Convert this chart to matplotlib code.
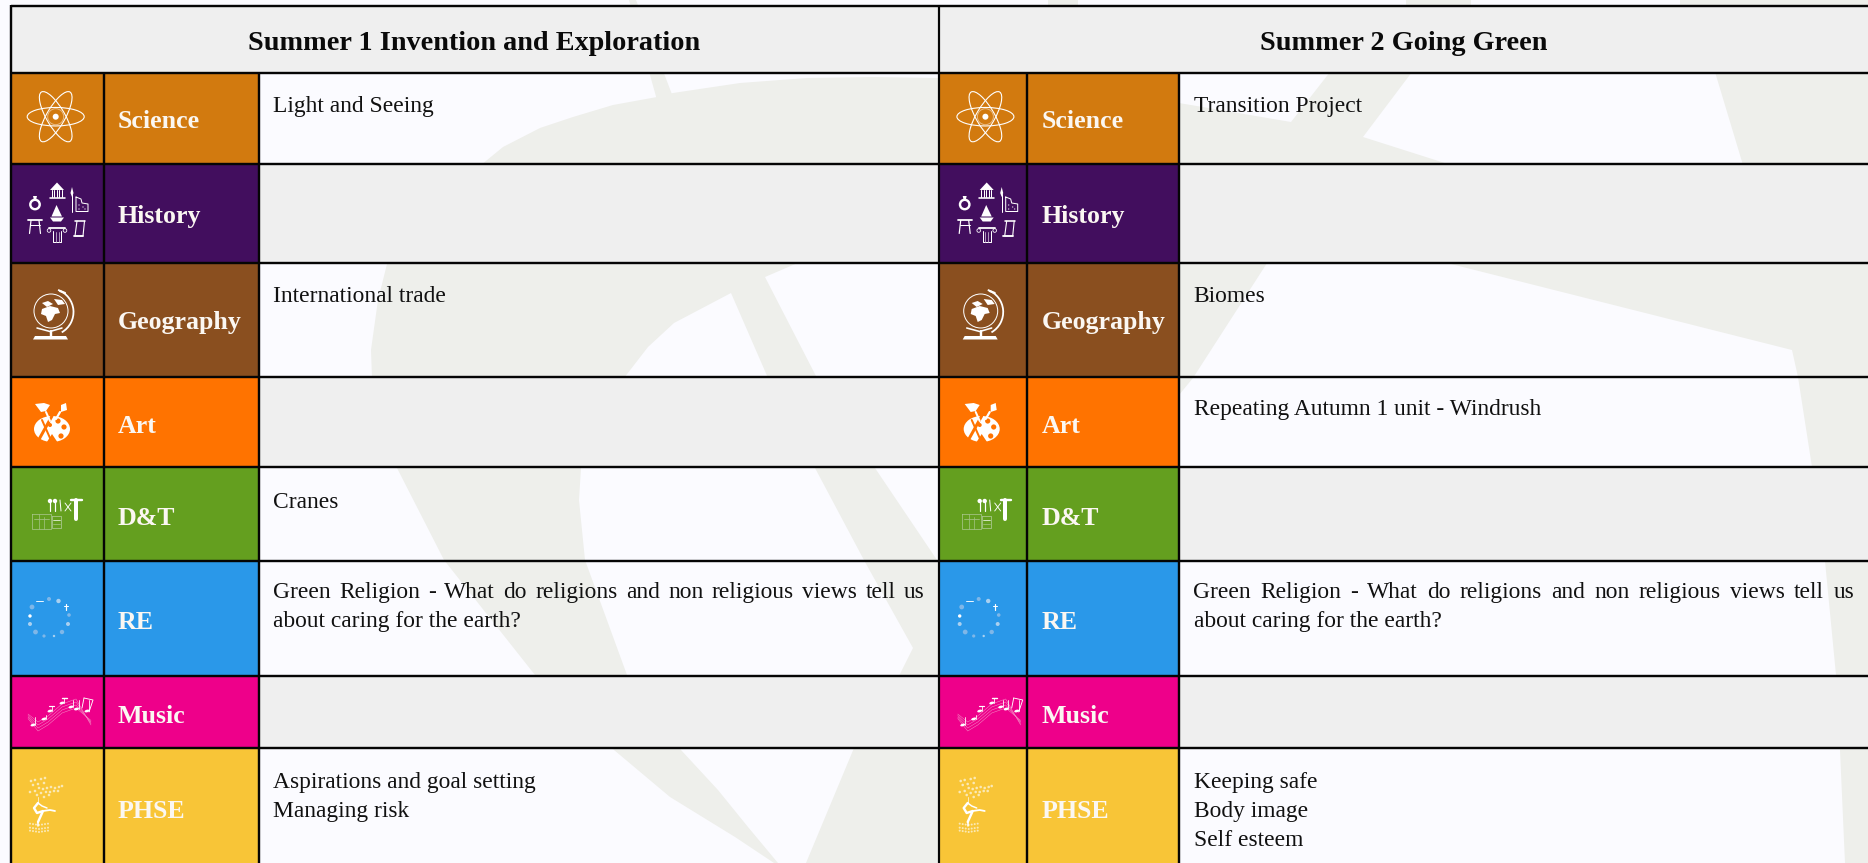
import matplotlib
matplotlib.use("Agg")
import matplotlib.pyplot as plt
from matplotlib.patches import Polygon, Rectangle, Ellipse, Circle, Arc
from matplotlib.textpath import TextPath
from matplotlib.font_manager import FontProperties

# ---------- table content ----------
subjects = ["Science", "History", "Geography", "Art", "D&T", "RE", "Music", "PHSE"]
subject_colors = ["#D27A0F", "#420E5E", "#8A4F1F", "#FF7300", "#649F1F", "#2A98E9", "#EE008A", "#F8C537"]
terms = ["Summer 1 Invention and Exploration", "Summer 2 Going Green"]
green_religion = ["Green Religion - What do religions and non religious views tell us",
                  "about caring for the earth?"]
summer1 = [["Light and Seeing"], [], ["International trade"], [], ["Cranes"],
           green_religion, [], ["Aspirations and goal setting", "Managing risk"]]
summer2 = [["Transition Project"], [], ["Biomes"], ["Repeating Autumn 1 unit - Windrush"], [],
           green_religion, [], ["Keeping safe", "Body image", "Self esteem"]]
term_contents = [summer1, summer2]

# ---------- layout (pixels) ----------
W, H = 1868, 863
row_y = [72.7, 163.8, 262.7, 376.7, 467.3, 560.7, 675.7, 748.0, 863.0]
top_y = 6.5
col_x = [(10.5, 104.0, 258.7, 939.0), (939.0, 1027.0, 1179.0, 1868.0)]
label_base = [128, 223, 329, 433, 525, 629, 723, 818]
text_base = [112, 0, 302, 415, 508, 598, 0, 788]
line_gap = 29
text_x = [273, 1193.5]
label_x = [118, 1042]
term_center = [474.5, 1403.5]
term_base = 50
justify_right = [924.5, 1854]
icon_dx = [0, 929.7]

BG = "#FBFBFF"
CELL = "#EFEFEF"
MARK = "#EEEFEB"
INK = "#111111"
FONT = "Liberation Serif"

# ---------- faint background logo ----------
logo_shapes = [
    [(629, 0), (636, 0), (673, 97), (657, 100)],
    [(1048, 0), (1078, 0), (1078, 8), (1048, 8)],
    [(1406, 0), (1471, 0), (1471, 8), (1406, 8)],
    [(1680, 0), (1868, 0), (1868, 8), (1680, 8)],
    [(481, 165), (503, 147), (540, 128), (573, 117), (613, 105), (657, 97), (673, 93), (740, 83),
     (807, 78), (873, 77), (938, 78), (1180, 78), (1180, 165)],
    [(1179, 103), (1291, 122), (1330, 72), (1412, 72), (1363, 137), (1451, 165), (1179, 165)],
    [(1715, 72), (1743, 165), (1440, 165), (1447, 263), (1792, 350), (1798, 377), (1812, 467),
     (1825, 561), (1836, 675), (1840, 750), (1845, 863), (1868, 863), (1868, 72)],
    [(1179, 260), (1269, 260), (1193, 378), (1179, 395)],
    [(388, 260), (378, 300), (371, 350), (372, 378), (624, 378), (648, 347), (674, 323), (731, 293),
     (768, 378), (817, 378), (765, 277), (800, 262)],
    [(397, 468), (444, 560), (535, 675), (614, 750), (670, 797), (735, 837), (774, 863),
     (778, 863), (748, 827), (718, 790), (681, 750), (627, 675), (585, 560), (579, 500), (581, 468)],
    [(815, 468), (865, 562), (913, 648), (898, 678), (940, 678), (940, 560), (937, 560), (875, 468)],
    [(854, 748), (806, 863), (940, 863), (940, 748)],
]

fig = plt.figure(figsize=(W / 100, H / 100), dpi=100, facecolor=BG)
ax = fig.add_axes([0, 0, 1, 1])
ax.set_xlim(0, W)
ax.set_ylim(H, 0)
ax.axis("off")
PX = 0.72


def fit_size(sample, target_px, weight):
    fp = FontProperties(family=FONT, weight=weight)
    bb = TextPath((0, 0), sample, size=100, prop=fp).get_extents()
    return 100 * target_px / bb.width * PX


body_size = fit_size("Aspirations and goal setting", 262, "normal")
label_size = fit_size("Geography", 122, "bold")
head_size = fit_size(terms[0], 450, "bold")

for shape in logo_shapes:
    ax.add_patch(Polygon(shape, closed=True, fc=MARK, ec="none", zorder=1))


def rect(x0, y0, x1, y1, color, z=2):
    ax.add_patch(Rectangle((x0, y0), x1 - x0, y1 - y0, fc=color, ec="none", zorder=z))


# ---------- cells ----------
for c, (x0, x1, x2, x3) in enumerate(col_x):
    rect(x0, top_y, x3, row_y[0], CELL)
    ax.text(term_center[c], term_base, terms[c], family=FONT, weight="bold", size=head_size,
            color="#0A0A0A", ha="center", va="baseline", zorder=6)
    for r, subject in enumerate(subjects):
        y0, y1 = row_y[r], row_y[r + 1]
        rect(x0, y0, x2, y1, subject_colors[r], 3)
        if not term_contents[c][r]:
            rect(x2, y0, x3, y1, CELL)
        ax.text(label_x[c], label_base[r], subject, family=FONT, weight="bold", size=label_size,
                color="#FBF7F2", ha="left", va="baseline", zorder=6)

# ---------- body text ----------
renderer = fig.canvas.get_renderer()


def text_width(s):
    t = ax.text(0, 0, s, family=FONT, size=body_size)
    w = t.get_window_extent(renderer).width
    t.remove()
    return w


def draw_justified(line, x_left, x_right, y):
    words = line.split(" ")
    widths = [text_width(w) for w in words]
    gap = (x_right - x_left - sum(widths)) / (len(words) - 1)
    x = x_left
    for w, wd in zip(words, widths):
        ax.text(x, y, w, family=FONT, size=body_size, color=INK, ha="left", va="baseline", zorder=6)
        x += wd + gap


for c in range(2):
    for r, lines in enumerate(term_contents[c]):
        for i, line in enumerate(lines):
            y = text_base[r] + i * line_gap
            if line == green_religion[0]:
                draw_justified(line, text_x[c], justify_right[c], y)
            else:
                ax.text(text_x[c], y, line, family=FONT, size=body_size, color=INK,
                        ha="left", va="baseline", zorder=6)

# ---------- icons ----------
WHITE = "#FFFFFF"


def pl(pts, dx, color=WHITE, lw=1.0, fill=False, z=5):
    if fill:
        ax.add_patch(Polygon([(x + dx, y) for x, y in pts], closed=True, fc=color, ec="none", zorder=z))
    else:
        ax.plot([p[0] + dx for p in pts], [p[1] for p in pts], color=color, lw=lw * PX,
                solid_capstyle="round", zorder=z)


def circ(x, y, r, dx, fc=WHITE, ec="none", lw=1.0, z=5):
    ax.add_patch(Circle((x + dx, y), r, fc=fc, ec=ec, lw=lw * PX, zorder=z))


def icon_atom(dx):
    for ang in (0, 60, -60):
        ax.add_patch(Ellipse((55.7 + dx, 116.7), 57, 18.5, angle=ang, fc="none", ec=WHITE,
                             lw=1.1 * PX, zorder=5))
    circ(55.7, 116.7, 8, dx, fc="none", ec="#E8B980", lw=1)
    circ(55.7, 116.7, 3, dx)


def icon_history(dx):
    # flask
    circ(35, 204.5, 4.7, dx, fc="none", ec=WHITE, lw=2.4)
    pl([(33, 196), (37, 196), (36, 200), (34, 200)], dx, fill=True)
    # temple
    pl([(50, 190), (57, 182.5), (64, 190)], dx, fill=True)
    for x in (51.5, 54, 56.5, 59, 61.5):
        pl([(x, 190), (x, 197)], dx, lw=1.0)
    pl([(49.5, 198.5), (64.5, 198.5)], dx, lw=1.6)
    # spear
    pl([(72, 194), (72, 212)], dx, lw=1.0)
    pl([(72, 187), (73.5, 193), (72, 197), (70.5, 193)], dx, fill=True)
    # flag / map
    pl([(76, 197), (81, 199), (82, 203), (88, 204), (88, 211.5), (76, 211.5), (76, 197)], dx, lw=1.0)
    for p in [(79, 205), (83, 207), (85, 209), (79, 209)]:
        circ(p[0], p[1], 0.6, dx)
    # ship
    pl([(56.5, 205), (62, 216.5), (51.5, 216.5)], dx, fill=True)
    pl([(50, 217.5), (64, 217.5), (61, 221.5), (53, 221.5)], dx, fill=True)
    # torii
    pl([(28, 220.5), (42, 220.5)], dx, lw=1.8)
    pl([(30, 225), (40, 225)], dx, lw=1.0)
    pl([(31, 220.5), (29.5, 233.5)], dx, lw=1.2)
    pl([(39, 220.5), (40.5, 233.5)], dx, lw=1.2)
    # column
    pl([(49, 228), (65, 228)], dx, lw=1.8)
    circ(49, 230.5, 1.8, dx, fc="none", ec=WHITE, lw=0.8)
    circ(65, 230.5, 1.8, dx, fc="none", ec=WHITE, lw=0.8)
    pl([(53, 231), (53, 242.5), (61, 242.5), (61, 231)], dx, lw=1.0)
    pl([(55.5, 232), (55.5, 242)], dx, color="#C9B8D4", lw=0.8)
    pl([(58.5, 232), (58.5, 242)], dx, color="#C9B8D4", lw=0.8)
    # scroll
    pl([(75, 221), (85, 221)], dx, lw=1.6)
    pl([(77, 221), (75, 236), (83, 236), (84.5, 221)], dx, lw=1.1)
    pl([(73.5, 236.5), (83, 236.5)], dx, lw=1.8)


def icon_globe(dx):
    circ(51, 311, 17, dx, fc="none", ec=WHITE, lw=1.0)
    pl([(42, 303), (48, 301), (53, 304), (47, 307)], dx, fill=True)
    pl([(54, 299), (62, 300), (65, 304), (58, 305)], dx, fill=True)
    pl([(42, 309), (50, 306), (58, 308), (60, 313), (55, 314), (52, 320), (48, 322), (46, 316), (41, 314)],
       dx, fill=True)
    ax.add_patch(Arc((50 + dx, 312), 47, 47, angle=0, theta1=-70, theta2=60, color=WHITE, lw=1.8 * PX, zorder=5))
    pl([(60, 291), (65, 293)], dx, lw=2.2)
    pl([(37, 328), (50, 331.5), (62, 328)], dx, lw=1.6)
    pl([(51, 331), (51, 336)], dx, lw=2.4)
    pl([(33, 339.5), (35, 336), (66, 336), (68, 339.5)], dx, fill=True)


def icon_art(dx):
    ax.add_patch(Ellipse((52 + dx, 429), 36, 26, fc=WHITE, ec="none", zorder=5))
    for p, r in [((58, 421), 2.6), ((64, 427), 2.6), ((61, 436), 2.6), ((50, 425), 2.0)]:
        circ(p[0], p[1], r, dx, fc="#FF7300")
    pl([(37, 443), (52, 416)], dx, color="#FF7300", lw=3)
    pl([(45, 445), (58, 443), (52, 434)], dx, color="#FF7300", fill=True)
    pl([(42, 420), (50, 438)], dx, color="#FF7300", lw=2)
    pl([(35, 404), (44, 403), (50, 405), (46, 411), (41, 412)], dx, fill=True)
    pl([(46, 412), (50, 421)], dx, lw=2)
    pl([(61, 405), (66, 403), (67, 410), (61, 412)], dx, fill=True)
    pl([(60, 412), (56, 419)], dx, lw=2.2)


def icon_dt(dx):
    pale = "#A4C484"
    pl([(71, 500), (81.5, 500)], dx, lw=2.4)
    pl([(75.5, 500), (75.5, 519)], dx, lw=4)
    pl([(50, 500), (50, 511)], dx, lw=1.2)
    circ(50, 501, 2.2, dx)
    pl([(55, 500), (55, 511)], dx, lw=1.2)
    circ(55, 501, 2.2, dx)
    pl([(60, 500), (61, 511)], dx, lw=1.0)
    pl([(65, 503), (71, 511)], dx, lw=0.9)
    pl([(71, 503), (65, 511)], dx, lw=0.9)
    pl([(32, 514), (51, 514), (51, 529), (32, 529), (32, 514)], dx, color=pale, lw=0.8)
    pl([(34, 519), (49, 519)], dx, color=pale, lw=0.8)
    pl([(39, 514), (39, 529)], dx, color=pale, lw=0.7)
    pl([(44, 517), (44, 529)], dx, color=pale, lw=0.7)
    pl([(52, 516), (61, 516), (61, 528), (52, 528), (52, 516)], dx, color=pale, lw=0.9)
    pl([(53, 520), (60, 520)], dx, color=WHITE, lw=0.7)
    pl([(53, 524), (60, 524)], dx, color=pale, lw=0.7)


def icon_re(dx):
    faint = "#A9D0F0"
    dim = "#7FB7E8"
    for x, y, r, col in [(39, 601, 0, WHITE), (49, 599, 2, dim), (58.5, 601, 2.2, faint), (32, 607, 2.4, dim),
                         (30, 616, 1.7, WHITE), (69, 615, 1.8, dim), (30, 624, 2, faint), (68, 624, 2, faint),
                         (35.5, 632, 2.4, dim), (44, 636, 1.6, dim), (54, 636, 1.2, faint), (62, 632, 2.2, dim)]:
        if r:
            circ(x, y, r, dx, fc=col)
    pl([(36, 601), (43, 601)], dx, color=WHITE, lw=0.9)
    pl([(65.5, 604), (65.5, 610)], dx, color=WHITE, lw=1.2)
    pl([(63.5, 606), (67.5, 606)], dx, color=WHITE, lw=1.0)


def icon_music(dx):
    faint = "#F58CC6"
    for off in (0, 3, 6, 9):
        pl([(28, 714 + off * 0.5), (38, 722 + off), (48, 716 + off), (62, 704 + off), (76, 699 + off),
            (91, 725 - off * 0.5)], dx, color=faint, lw=0.5)
    for x, y, top in [(33, 725, 717), (44, 719, 715), (50, 711, 706), (62, 703, 698), (71, 707, 700), (76.5, 709, 700),
                      (87, 711, 700)]:
        ax.add_patch(Ellipse((x + dx, y), 5, 2.6, angle=-15, fc=WHITE, ec="none", zorder=5))
        pl([(x + 2, y), (x + 2, top)], dx, lw=0.8)
    pl([(62, 698), (67, 698)], dx, lw=1.4)
    pl([(49, 706), (54, 706)], dx, lw=1.2)
    pl([(84, 698), (93, 700), (89, 712)], dx, lw=0.9)
    pl([(84, 698), (82, 708)], dx, lw=0.9)


def icon_phse(dx):
    pale = "#FBE9B5"
    leaves = [(31, 781), (35, 780), (41, 779), (45, 778), (33, 785), (38, 784), (44, 783), (30, 792), (35, 791),
              (39, 788), (43, 789), (47, 788), (51, 787), (55, 788), (59, 787), (62, 786), (37, 795), (41, 793),
              (46, 792), (50, 792), (54, 791), (58, 791), (44, 797), (49, 795)]
    for x, y in leaves:
        circ(x, y, 1.3, dx, fc=pale)
    for x in (30, 33, 36, 39, 42, 45, 48):
        for y in (825, 829, 832):
            circ(x, y + abs(x - 39) * -0.15, 1.0, dx, fc=pale)
    pl([(38, 797), (38, 803)], dx, color=pale, lw=1)
    pl([(38, 803), (34, 808), (37, 813), (43, 811), (38, 822)], dx, lw=2.4)
    pl([(43, 811), (50, 810), (55, 811)], dx, lw=1.8)
    pl([(38, 803), (42, 806), (47, 808)], dx, lw=1.5)
    pl([(38, 822), (38, 826)], dx, lw=1.6)


icon_funcs = [icon_atom, icon_history, icon_globe, icon_art, icon_dt, icon_re, icon_music, icon_phse]
for dx in icon_dx:
    for fn in icon_funcs:
        fn(dx)

# ---------- grid lines ----------
LINE = "#050505"
for c, (x0, x1, x2, x3) in enumerate(col_x):
    for y in [top_y] + row_y[:-1]:
        ax.plot([x0, x3], [y, y], color=LINE, lw=2.4 * PX, solid_capstyle="butt", zorder=7)
    for x in (x1, x2):
        ax.plot([x, x], [row_y[0], H], color=LINE, lw=2.4 * PX, solid_capstyle="butt", zorder=7)
ax.plot([10.5, 10.5], [top_y - 1.2, H], color=LINE, lw=2.4 * PX, solid_capstyle="butt", zorder=7)
ax.plot([939, 939], [top_y, H], color=LINE, lw=2.2 * PX, solid_capstyle="butt", zorder=7)

ax.set_xlim(0, W)
ax.set_ylim(H, 0)
fig.savefig("out.png", dpi=100, facecolor=BG)
